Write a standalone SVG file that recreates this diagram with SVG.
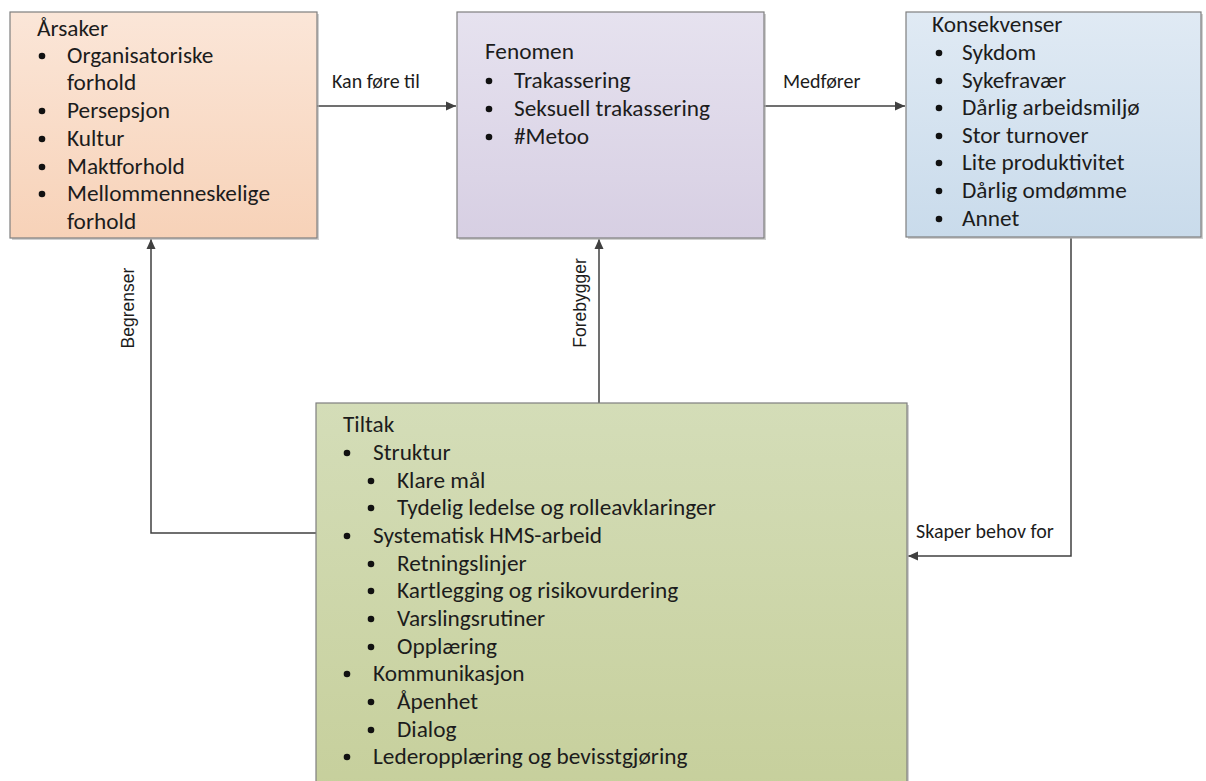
<svg xmlns="http://www.w3.org/2000/svg" width="1206" height="781" viewBox="0 0 1206 781">
<defs>
<linearGradient id="gA" x1="0" y1="0" x2="0" y2="1"><stop offset="0" stop-color="#fbe6d8"/><stop offset="1" stop-color="#f7d2b8"/></linearGradient>
<linearGradient id="gF" x1="0" y1="0" x2="0" y2="1"><stop offset="0" stop-color="#e6e2ef"/><stop offset="1" stop-color="#d7cfe3"/></linearGradient>
<linearGradient id="gK" x1="0" y1="0" x2="0" y2="1"><stop offset="0" stop-color="#e0eaf4"/><stop offset="1" stop-color="#c9dbeb"/></linearGradient>
<linearGradient id="gT" x1="0" y1="0" x2="0" y2="1"><stop offset="0" stop-color="#d4ddb8"/><stop offset="1" stop-color="#c6cf9b"/></linearGradient>
<marker id="arr" viewBox="0 0 10 10" refX="10" refY="5" markerWidth="10" markerHeight="10" markerUnits="userSpaceOnUse" orient="auto">
<path d="M0,0.5 L10,5 L0,9.5 Z" fill="#404040"/>
</marker>
</defs>
<style>
.box{stroke:#7f7f7f;stroke-width:1.2}
.sh{fill:#b0b0b0;opacity:0.6}
.t{font-family:Carlito,Lato,"Liberation Sans",sans-serif;font-size:23.3px;fill:#1c1c1c}
.lbl{font-family:Carlito,Lato,"Liberation Sans",sans-serif;font-size:20px;fill:#1c1c1c}
.rl{font-family:"Liberation Sans",Arial,sans-serif;font-size:17.5px;fill:#1c1c1c}
.b{fill:#111}
.c{fill:none;stroke:#404040;stroke-width:1.5}
</style>
<g id="connectors">
<line class="c" x1="317" y1="106" x2="456" y2="106" marker-end="url(#arr)"/>
<line class="c" x1="764" y1="106" x2="905" y2="106" marker-end="url(#arr)"/>
<polyline class="c" points="1071,238 1071,556 908,556" marker-end="url(#arr)"/>
<line class="c" x1="599" y1="403" x2="599" y2="239" marker-end="url(#arr)"/>
<polyline class="c" points="316,533 151,533 151,239" marker-end="url(#arr)"/>
<text class="lbl" x="332" y="88">Kan føre til</text>
<text class="lbl" x="783" y="88">Medfører</text>
<text class="lbl" x="916" y="538">Skaper behov for</text>
<text class="rl" transform="translate(586,303) rotate(-90)" text-anchor="middle">Forebygger</text>
<text class="rl" transform="translate(134,308) rotate(-90)" text-anchor="middle">Begrenser</text>
</g>
<g id="arsaker">
<rect class="sh" x="12" y="14" width="307" height="226"/>
<rect class="box" x="10" y="12" width="307" height="226" fill="url(#gA)"/>
<text class="t" x="37" y="36">Årsaker</text>
<circle class="b" cx="42" cy="56" r="3.3"/><text class="t" x="67" y="63">Organisatoriske</text>
<text class="t" x="67" y="90">forhold</text>
<circle class="b" cx="42" cy="111" r="3.3"/><text class="t" x="67" y="118">Persepsjon</text>
<circle class="b" cx="42" cy="139" r="3.3"/><text class="t" x="67" y="146">Kultur</text>
<circle class="b" cx="42" cy="167" r="3.3"/><text class="t" x="67" y="174">Maktforhold</text>
<circle class="b" cx="42" cy="194" r="3.3"/><text class="t" x="67" y="201">Mellommenneskelige</text>
<text class="t" x="67" y="229">forhold</text>
</g>
<g id="fenomen">
<rect class="sh" x="459" y="14" width="307" height="226"/>
<rect class="box" x="457" y="12" width="307" height="226" fill="url(#gF)"/>
<text class="t" x="485" y="59">Fenomen</text>
<circle class="b" cx="489" cy="81" r="3.3"/><text class="t" x="514" y="88">Trakassering</text>
<circle class="b" cx="489" cy="109" r="3.3"/><text class="t" x="514" y="116">Seksuell trakassering</text>
<circle class="b" cx="489" cy="137" r="3.3"/><text class="t" x="514" y="144">#Metoo</text>
</g>
<g id="konsekvenser">
<rect class="sh" x="908" y="14" width="295" height="225"/>
<rect class="box" x="906" y="12" width="295" height="225" fill="url(#gK)"/>
<text class="t" x="932" y="32">Konsekvenser</text>
<circle class="b" cx="939" cy="53" r="3.3"/><text class="t" x="962" y="60">Sykdom</text>
<circle class="b" cx="939" cy="81" r="3.3"/><text class="t" x="962" y="88">Sykefravær</text>
<circle class="b" cx="939" cy="108" r="3.3"/><text class="t" x="962" y="115">Dårlig arbeidsmiljø</text>
<circle class="b" cx="939" cy="136" r="3.3"/><text class="t" x="962" y="143">Stor turnover</text>
<circle class="b" cx="939" cy="163" r="3.3"/><text class="t" x="962" y="170">Lite produktivitet</text>
<circle class="b" cx="939" cy="191" r="3.3"/><text class="t" x="962" y="198">Dårlig omdømme</text>
<circle class="b" cx="939" cy="219" r="3.3"/><text class="t" x="962" y="226">Annet</text>
</g>
<g id="tiltak">
<rect class="sh" x="318" y="405" width="591" height="400"/>
<rect class="box" x="316" y="403" width="591" height="400" fill="url(#gT)"/>
<text class="t" x="343" y="432">Tiltak</text>
<circle class="b" cx="347" cy="453" r="3.3"/><text class="t" x="373" y="460">Struktur</text>
<circle class="b" cx="371" cy="481" r="3.3"/><text class="t" x="397" y="488">Klare mål</text>
<circle class="b" cx="371" cy="508" r="3.3"/><text class="t" x="397" y="515">Tydelig ledelse og rolleavklaringer</text>
<circle class="b" cx="347" cy="536" r="3.3"/><text class="t" x="373" y="543">Systematisk HMS-arbeid</text>
<circle class="b" cx="371" cy="564" r="3.3"/><text class="t" x="397" y="571">Retningslinjer</text>
<circle class="b" cx="371" cy="591" r="3.3"/><text class="t" x="397" y="598">Kartlegging og risikovurdering</text>
<circle class="b" cx="371" cy="619" r="3.3"/><text class="t" x="397" y="626">Varslingsrutiner</text>
<circle class="b" cx="371" cy="647" r="3.3"/><text class="t" x="397" y="654">Opplæring</text>
<circle class="b" cx="347" cy="674" r="3.3"/><text class="t" x="373" y="681">Kommunikasjon</text>
<circle class="b" cx="371" cy="702" r="3.3"/><text class="t" x="397" y="709">Åpenhet</text>
<circle class="b" cx="371" cy="730" r="3.3"/><text class="t" x="397" y="737">Dialog</text>
<circle class="b" cx="347" cy="757" r="3.3"/><text class="t" x="373" y="764">Lederopplæring og bevisstgjøring</text>
</g>
</svg>
